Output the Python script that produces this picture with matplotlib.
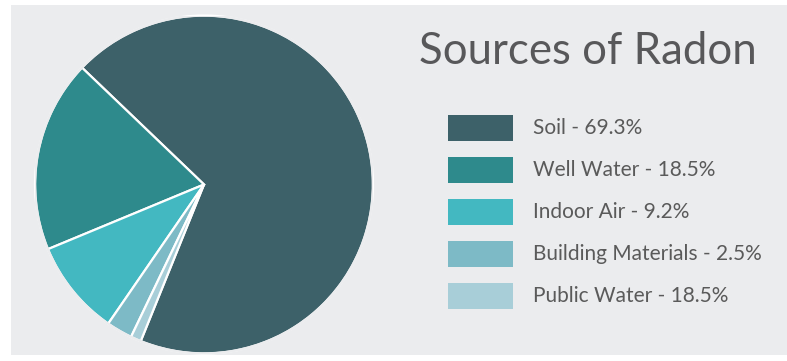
import matplotlib.pyplot as plt
from matplotlib.patches import Rectangle, Circle

sources = ["Soil", "Well Water", "Indoor Air", "Building Materials", "Public Water"]
legend_pct = ["69.3%", "18.5%", "9.2%", "2.5%", "18.5%"]
shares = [69.3, 18.5, 9.2, 2.5, 1.0]
colors = ["#3d6169", "#2e8a8c", "#43b8c1", "#7dbac6", "#a8ced8"]
panel = "#ebecee"

W, H = 787, 361
fig = plt.figure(figsize=(W / 100, H / 100), dpi=100)
fig.patch.set_facecolor("white")

# light grey panel behind everything
fig.patches.append(Rectangle((11 / W, 1 - 355 / H), 1, (355 - 5) / H,
                             transform=fig.transFigure, facecolor=panel,
                             edgecolor="none", zorder=-5))

# pie, centred at (204, 184) px with radius 169 px
cx, cy, r = 204, 184.5, 169
ax = fig.add_axes([(cx - r) / W, 1 - (cy + r) / H, 2 * r / W, 2 * r / H])
ax.pie(shares, colors=colors, startangle=-112, counterclock=True,
       wedgeprops=dict(edgecolor="white", linewidth=1.6), radius=1)
# hide the white rim so only the separators stay white
ax.add_patch(Circle((0, 0), 1, facecolor="none", edgecolor=panel, linewidth=1.8))
ax.set_xlim(-1, 1)
ax.set_ylim(-1, 1)
ax.set_aspect("equal")
ax.axis("off")

font = "Lato"
fig.text(588 / W, 1 - 51 / H, "Sources of Radon", ha="center", va="center",
         fontsize=31.5, color="#58585a", family=font)

for i, (name, pct, c) in enumerate(zip(sources, legend_pct, colors)):
    yc = 128 + 42 * i
    fig.patches.append(Rectangle((448 / W, 1 - (yc + 13) / H), 65 / W, 26 / H,
                                 transform=fig.transFigure, facecolor=c,
                                 edgecolor="none", zorder=2))
    fig.text(533 / W, 1 - yc / H, f"{name} - {pct}", ha="left", va="center",
             fontsize=15, color="#5a5a5a", family=font)

fig.savefig("out.png", dpi=100)
